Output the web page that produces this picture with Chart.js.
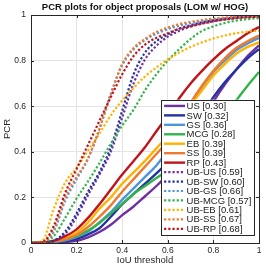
<!DOCTYPE html>
<html>
<head>
<meta charset="utf-8">
<script src="https://cdn.jsdelivr.net/npm/chart.js@4/dist/chart.umd.min.js"></script>
<style>
html,body{margin:0;padding:0;background:#fff;}
#wrap{width:266px;height:266px;}
</style>
</head>
<body>
<div id="wrap"><canvas id="c" width="266" height="266"></canvas></div>
<script>
// IoU thresholds (x values)
const thresholds = [0,0.05,0.1,0.15,0.2,0.25,0.3,0.35,0.4,0.45,0.5,0.55,0.6,0.65,0.7,0.75,0.8,0.85,0.9,0.95,1];
const xTicks = [0,0.2,0.4,0.6,0.8,1];
const yTicks = [0,0.2,0.4,0.6,0.8,1];

const seriesNames = ['US','SW','GS','MCG','EB','SS','RP','UB-US','UB-SW','UB-GS','UB-MCG','UB-EB','UB-SS','UB-RP'];
const scores = [0.30,0.32,0.36,0.28,0.39,0.39,0.43,0.59,0.60,0.66,0.57,0.61,0.67,0.68];

const US  = [0,0,0.001,0.004,0.01,0.025,0.048,0.08,0.122,0.16,0.205,0.25,0.30,0.37,0.45,0.535,0.62,0.695,0.76,0.82,0.867];
const SW  = [0,0,0.002,0.008,0.018,0.038,0.065,0.115,0.17,0.215,0.26,0.305,0.355,0.42,0.49,0.565,0.64,0.705,0.76,0.81,0.85];
const GS  = [0,0,0.004,0.012,0.027,0.05,0.09,0.135,0.19,0.24,0.29,0.34,0.41,0.51,0.61,0.685,0.75,0.80,0.845,0.875,0.90];
const MCG = [0,0.001,0.006,0.016,0.03,0.055,0.088,0.13,0.172,0.215,0.25,0.285,0.32,0.36,0.405,0.455,0.51,0.565,0.625,0.69,0.75];
const EB  = [0,0.001,0.008,0.022,0.045,0.09,0.15,0.20,0.26,0.31,0.36,0.415,0.47,0.535,0.605,0.67,0.735,0.785,0.83,0.86,0.88];
const SS  = [0,0.001,0.006,0.016,0.035,0.07,0.115,0.165,0.225,0.28,0.335,0.39,0.45,0.53,0.615,0.69,0.755,0.81,0.855,0.885,0.91];
const RP  = [0,0.002,0.01,0.03,0.06,0.11,0.17,0.235,0.30,0.36,0.42,0.49,0.56,0.635,0.70,0.755,0.805,0.85,0.885,0.92,0.947];
const UB_US  = [0,0.001,0.008,0.04,0.115,0.21,0.30,0.40,0.55,0.70,0.805,0.865,0.905,0.93,0.95,0.963,0.973,0.981,0.987,0.991,0.994];
const UB_SW  = [0,0.001,0.01,0.05,0.13,0.225,0.31,0.42,0.58,0.74,0.835,0.885,0.915,0.94,0.955,0.968,0.977,0.984,0.99,0.993,0.995];
const UB_GS  = [0,0.002,0.05,0.185,0.28,0.37,0.50,0.655,0.78,0.85,0.89,0.918,0.938,0.953,0.964,0.973,0.98,0.986,0.99,0.994,0.996];
const UB_MCG = [0,0.002,0.03,0.11,0.195,0.27,0.35,0.435,0.515,0.585,0.67,0.74,0.80,0.85,0.895,0.93,0.95,0.965,0.975,0.982,0.986];
const UB_EB  = [0,0.01,0.15,0.265,0.33,0.405,0.48,0.56,0.625,0.68,0.73,0.77,0.805,0.835,0.86,0.88,0.897,0.91,0.92,0.927,0.932];
const UB_SS  = [0,0.003,0.06,0.20,0.29,0.37,0.50,0.65,0.785,0.855,0.895,0.925,0.945,0.96,0.97,0.978,0.984,0.989,0.993,0.996,0.998];
const UB_RP  = [0,0.004,0.075,0.22,0.325,0.43,0.535,0.64,0.74,0.82,0.87,0.90,0.92,0.94,0.95,0.962,0.972,0.98,0.986,0.99,0.993];

const seriesValues = [US,SW,GS,MCG,EB,SS,RP,UB_US,UB_SW,UB_GS,UB_MCG,UB_EB,UB_SS,UB_RP];
const colors = ['#7030A0','#2233A0','#4D95DC','#33B44A','#FFB300','#EE7A30','#C0141B'];

const datasets = seriesValues.map((vals, i) => {
  const dotted = i >= 7;
  return {
    label: seriesNames[i] + ' [' + scores[i].toFixed(2) + ']',
    data: vals.map((v, k) => ({x: thresholds[k], y: v})),
    borderColor: colors[i % 7],
    backgroundColor: colors[i % 7],
    borderWidth: dotted ? 2.2 : 2.4,
    borderDash: dotted ? [2.2, 2] : [],
    borderCapStyle: 'butt',
    pointRadius: 0,
    fill: false,
    cubicInterpolationMode: 'monotone',
    order: 13 - i
  };
});

const AXIS = '#262626';
const FONT = "'Liberation Sans', Arial, Helvetica, sans-serif";

const frame = {
  id: 'frame',
  afterDraw(chart) {
    const {ctx, chartArea: a, scales} = chart;
    ctx.save();
    ctx.strokeStyle = AXIS;
    ctx.lineWidth = 1;
    const tl = 3;
    ctx.beginPath();
    xTicks.forEach(v => {
      const x = Math.round(scales.x.getPixelForValue(v)) + 0.5;
      ctx.moveTo(x, a.bottom); ctx.lineTo(x, a.bottom - tl);
      ctx.moveTo(x, a.top); ctx.lineTo(x, a.top + tl);
    });
    yTicks.forEach(v => {
      const y = Math.round(scales.y.getPixelForValue(v)) + 0.5;
      ctx.moveTo(a.left, y); ctx.lineTo(a.left + tl, y);
      ctx.moveTo(a.right, y); ctx.lineTo(a.right - tl, y);
    });
    ctx.stroke();
    ctx.strokeRect(Math.round(a.left) + 0.5, Math.round(a.top) + 0.5, Math.round(a.right - a.left), Math.round(a.bottom - a.top));
    ctx.restore();
  }
};

const boxLegend = {
  id: 'boxLegend',
  afterDatasetsDraw(chart) {
    const {ctx, chartArea: a} = chart;
    ctx.save();
    ctx.font = '9.5px ' + FONT;
    const rowH = 9.45;
    const sample = 21;
    let maxW = 0;
    chart.data.datasets.forEach(d => { maxW = Math.max(maxW, ctx.measureText(d.label).width); });
    const w = 3 + sample + 1.5 + maxW + 3;
    const h = rowH * chart.data.datasets.length + 3;
    const right = a.right - 4.5;
    const bottom = a.bottom - 8;
    const left = right - w, top = bottom - h;
    ctx.fillStyle = '#fff';
    ctx.fillRect(left, top, w, h);
    ctx.strokeStyle = AXIS;
    ctx.lineWidth = 1;
    ctx.strokeRect(Math.round(left) + 0.5, Math.round(top) + 0.5, Math.round(w), Math.round(h));
    chart.data.datasets.forEach((d, i) => {
      const y = top + 1.5 + rowH * (i + 0.5);
      ctx.beginPath();
      ctx.strokeStyle = d.borderColor;
      ctx.lineWidth = d.borderWidth;
      ctx.setLineDash(d.borderDash);
      ctx.moveTo(left + 3, y);
      ctx.lineTo(left + 3 + sample, y);
      ctx.stroke();
      ctx.setLineDash([]);
      ctx.fillStyle = '#222';
      ctx.textBaseline = 'middle';
      ctx.textAlign = 'left';
      ctx.fillText(d.label, left + 3 + sample + 1.5, y + 0.5);
    });
    ctx.restore();
  }
};

new Chart(document.getElementById('c'), {
  type: 'line',
  data: {datasets},
  plugins: [frame, boxLegend],
  options: {
    responsive: false,
    animation: false,
    devicePixelRatio: 1,
    layout: {padding: {top: 0, right: 7, left: 0, bottom: 0}},
    plugins: {
      legend: {display: false},
      tooltip: {enabled: false},
      title: {
        display: true,
        fullSize: false,
        text: 'PCR plots for object proposals (LOM w/ HOG)',
        color: '#111',
        font: {family: FONT, size: 9.5, weight: 'bold', lineHeight: 1.2},
        padding: {top: 2, bottom: 1.6}
      }
    },
    scales: {
      x: {
        type: 'linear', min: 0, max: 1,
        afterFit(s) { s.height = 23; },
        afterBuildTicks(s) { s.ticks = xTicks.map(v => ({value: v})); },
        ticks: {
          color: '#262626', padding: 3, maxRotation: 0, autoSkip: false,
          font: {family: FONT, size: 8.5},
          callback: v => String(+v.toFixed(1))
        },
        grid: {color: '#e3e3e3', drawTicks: false, lineWidth: 1},
        border: {display: false},
        title: {display: true, text: 'IoU threshold', color: '#262626',
          font: {family: FONT, size: 9.5, lineHeight: 1.2}, padding: {top: 0, bottom: 0}}
      },
      y: {
        type: 'linear', min: 0, max: 1,
        afterFit(s) { s.width = 31; },
        afterBuildTicks(s) { s.ticks = yTicks.map(v => ({value: v})); },
        ticks: {
          color: '#262626', padding: 5,
          font: {family: FONT, size: 8.5},
          callback: v => String(+v.toFixed(1))
        },
        grid: {color: '#e3e3e3', drawTicks: false, lineWidth: 1},
        border: {display: false},
        title: {display: true, text: 'PCR', color: '#262626',
          font: {family: FONT, size: 9.5, lineHeight: 1.2}, padding: {top: 2, bottom: 0}}
      }
    }
  }
});
</script>
</body>
</html>
